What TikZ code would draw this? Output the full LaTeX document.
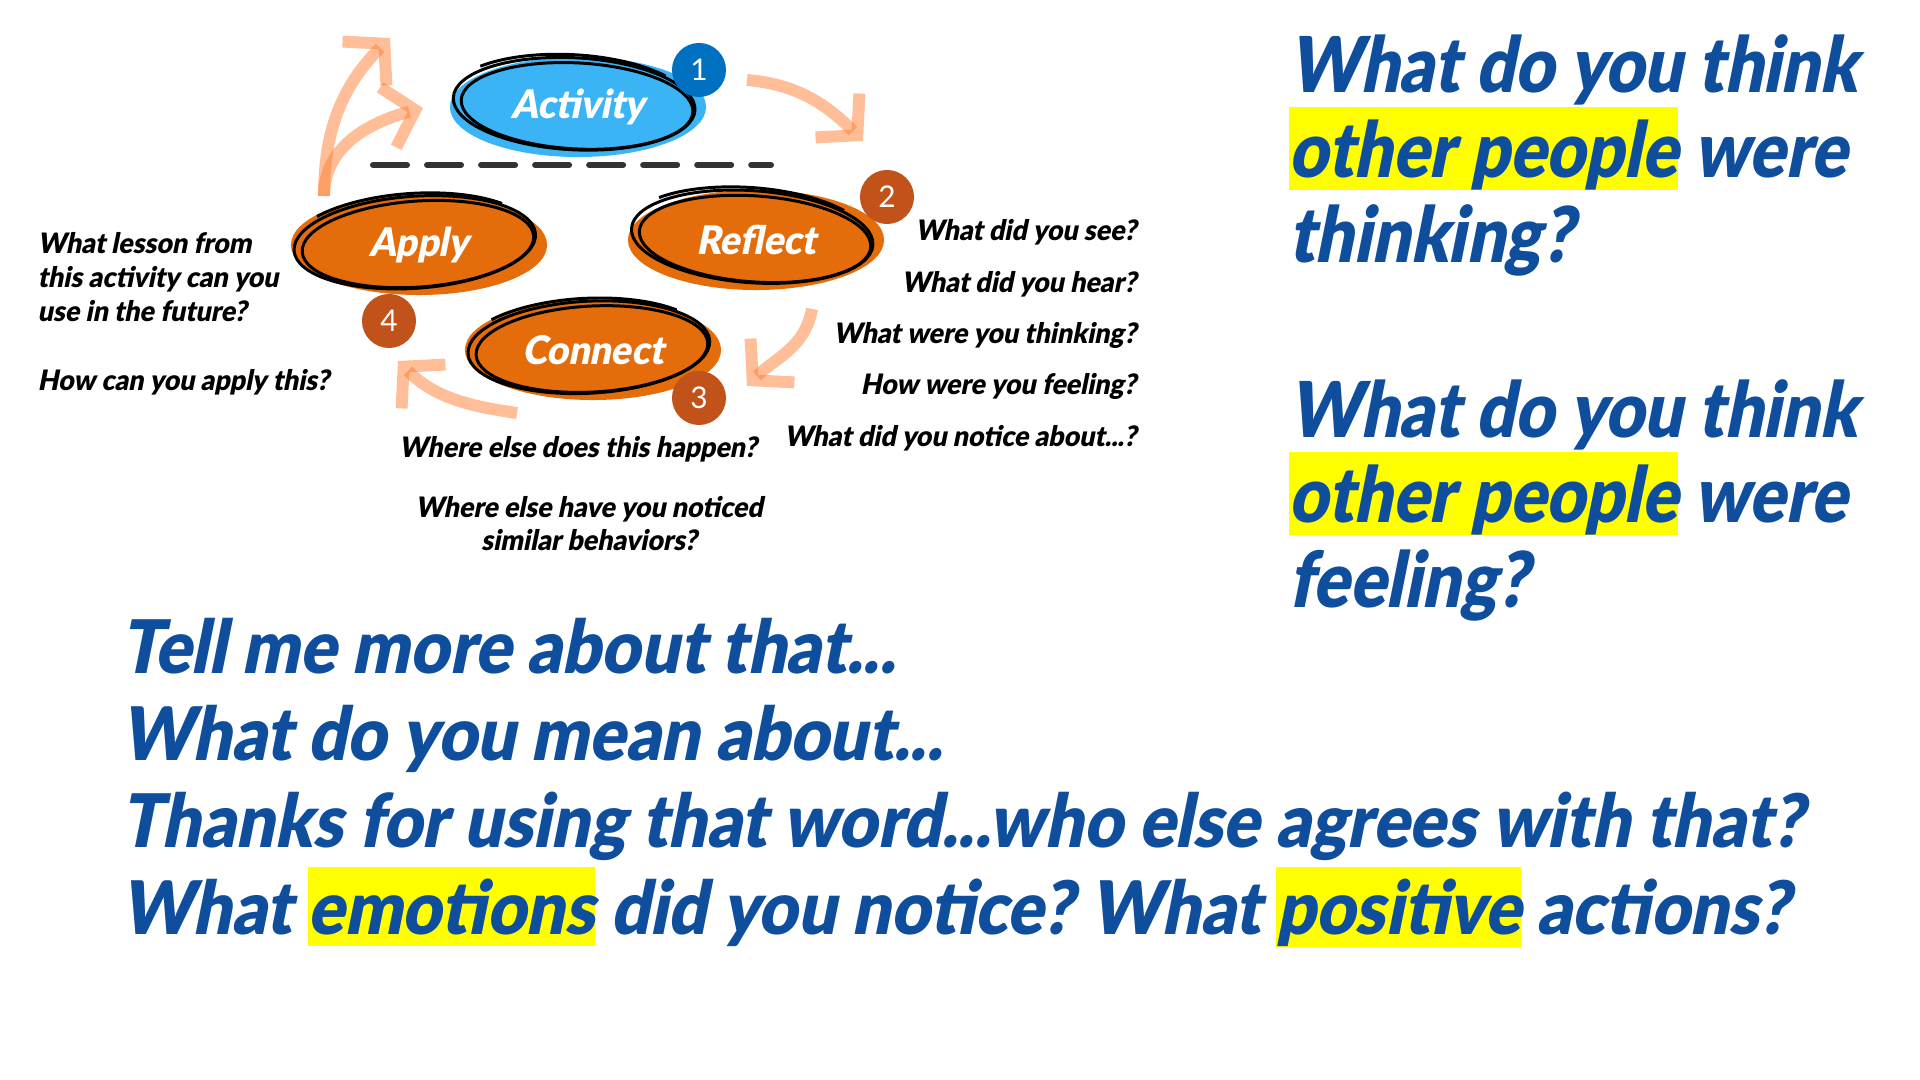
\documentclass[tikz,border=0pt]{standalone}
\usepackage{fontspec}
\setmainfont{Lato}
\newfontfamily\heavyit{Lato Black}[FakeSlant=0.2, FakeStretch=0.95]
\newfontfamily\heavybig{Lato Black}[FakeSlant=0.2, FakeStretch=0.88]
\newfontfamily\heavywide{Lato Black}[FakeSlant=0.2, FakeStretch=0.92]
\usetikzlibrary{shapes.geometric, arrows.meta, calc}
\frenchspacing
\definecolor{stageorange}{HTML}{E46C0A}
\definecolor{stageblue}{HTML}{3AB4F5}
\definecolor{badgeblue}{HTML}{0070C0}
\definecolor{badgerust}{HTML}{C0521A}
\definecolor{flowpeach}{HTML}{FF7F30}
\definecolor{promptblue}{HTML}{0E4E9C}
\definecolor{hlyellow}{HTML}{FFFF00}
\definecolor{dashgrey}{HTML}{333333}
\newcommand\stagefont{\heavyit\fontsize{11.2}{13}\selectfont}
\newcommand\badgefont{\fontsize{8.5}{10}\selectfont}
\newcommand\promptfont{\heavyit\fontsize{8}{9.7}\selectfont}
\newcommand\bigfont{\heavybig\fontsize{21.9}{24.2}\selectfont\lineskiplimit=-20pt}
\newcommand\probefont{\heavywide\fontsize{21}{24.7}\selectfont\lineskiplimit=-20pt}
\newcommand\hl[1]{{\setlength{\fboxsep}{0pt}\colorbox{hlyellow}{\rule[-0.16em]{0pt}{1.08em}#1}}}
\tikzset{
    stage/.style={ellipse, fill=stageorange, minimum width=2.56cm, minimum height=1cm, inner sep=0pt, text=white, font=\stagefont},
    sketch/.style={draw=black, line width=0.85pt},
    badge/.style={circle, fill=badgerust, minimum size=0.54cm, inner sep=0pt, text=white, font=\badgefont},
    flow/.style={draw=flowpeach, draw opacity=0.5, line width=3.4pt, -{Straight Barb[length=0.28cm, width=0.62cm, sharp]}},
    divider/.style={draw=dashgrey, line width=1.7pt, line cap=round, dash pattern=on 0.34cm off 0.2cm},
    prompt/.style={inner sep=0pt, font=\promptfont},
    bigprompt/.style={inner sep=0pt, text=promptblue, font=\bigfont},
    probe/.style={inner sep=0pt, text=promptblue, font=\probefont},
}

\begin{document}
\begin{tikzpicture}[x=0.01cm, y=0.01cm]

\fill[white] (0,0) rectangle (1920,-1080);
\useasboundingbox (0,0) rectangle (1920,-1080);

% ── Cycle stages ──
\node[stage, fill=stageblue] (act) at (578,-107) {Activity};
\node[stage] (refl) at (756,-240) {Reflect};
\node[stage] (conn) at (593,-350) {Connect};
\node[stage] (apply) at (419,-245) {Apply};

% hand-drawn outlines
\foreach \n/\rot in {act/-3, refl/-4, conn/3, apply/4} {
  \begin{scope}[shift={(\n.center)}, rotate=\rot]
    \draw[sketch] (-4,3) ellipse [x radius=121, y radius=46];
    \draw[sketch] (-1,1) ellipse [x radius=116, y radius=43];
    \draw[sketch] (-7,6) ++(40:121 and 46) arc[start angle=40, end angle=140, x radius=121, y radius=46];
  \end{scope}
}

% ── Step numbers ──
\node[badge, fill=badgeblue] (n1) at (699,-70) {1};
\node[badge] (n2) at (887,-197) {2};
\node[badge] (n3) at (699,-398) {3};
\node[badge] (n4) at (389,-321) {4};

\draw[divider] (373,-165) -- (771,-165);

% ── Cycle arrows ──
\draw[flow] ($(act)+(169,27)$) to[out=-5, in=135] ($(refl)+(107,99)$);
\draw[flow] ($(refl)+(56,-69)$) to[out=-100, in=45] ($(conn)+(154,-36)$);
\draw[flow] ($(conn)+(-76,-63)$) to[out=172, in=-45] ($(apply)+(-21,-116)$);
\draw[flow] ($(apply)+(-95,49)$) to[out=90, in=225] ($(act)+(-188,69)$);
\draw[flow] ($(apply)+(-95,49)$) to[out=90, in=195] ($(act)+(-155,-1)$);

% ── Questions ──
\node[prompt, anchor=north west, align=left] (qapply) at (37,-232) {What lesson from\\this activity can you\\use in the future?\\[9.7pt]How can you apply this?};
\node[prompt, anchor=north east, align=right, font=\heavyit\fontsize{8}{14.6}\selectfont] (qrefl) at (1137,-219) {What did you see?\\What did you hear?\\What were you thinking?\\How were you feeling?\\What did you notice about...?};
\node[prompt, anchor=north] (qconn) at (578,-436) {Where else does this happen?};
\node[prompt, anchor=north, align=center, font=\heavyit\fontsize{8}{9.4}\selectfont] (qconn2) at (589,-496) {Where else have you noticed\\similar behaviors?};

% ── Prompts ──
\node[bigprompt, anchor=north west, align=left] (others1) at (1288,-34) {What do you think\\\hl{other people} were\\thinking?};
\node[bigprompt, anchor=north west, align=left] (others2) at (1288,-379) {What do you think\\\hl{other people} were\\feeling?};
\node[probe, anchor=north west, align=left] (probes) at (120,-618) {Tell me more about that...\\What do you mean about...\\Thanks for using that word...who else agrees with that?\\What \hl{emotions} did you notice? What \hl{positive} actions?};

\end{tikzpicture}
\end{document}
